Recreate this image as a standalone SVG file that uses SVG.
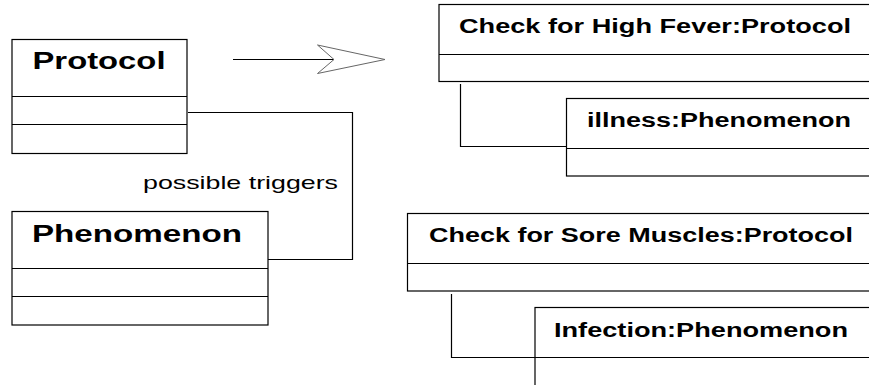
<svg xmlns="http://www.w3.org/2000/svg" width="869" height="385" viewBox="0 0 869 385">
<style>
.box{fill:#fff;stroke:#000;stroke-width:1.2}
.ln{fill:none;stroke:#000;stroke-width:1.2}
.t{font-family:"Liberation Sans",Arial,sans-serif;font-weight:bold;fill:#000}
.lbl{font-family:"Liberation Sans",Arial,sans-serif;fill:#000}
</style>
<rect width="869" height="385" fill="#fff"/>
<g id="connectors">
<path class="ln" d="M188 112.5 H352.5 V259.5 H268"/>
<path class="ln" d="M460.5 84 V146.5 H566"/>
<path class="ln" d="M451.5 294 V357.5 H535"/>
<path class="ln" d="M233 59.5 H334"/>
<path d="M317.5 45 L385 59.5 L317.5 73.5 L334 59.5 Z" fill="#fff" stroke="#666" stroke-width="1"/>
<text class="lbl" x="143" y="189" font-size="19" textLength="195" lengthAdjust="spacingAndGlyphs">possible triggers</text>
</g>
<g id="protocol">
<rect class="box" x="12" y="39.5" width="175" height="114"/>
<path class="ln" d="M12 96.5 H187 M12 124.5 H187"/>
<text class="t" x="32.5" y="68.5" font-size="24" textLength="133" lengthAdjust="spacingAndGlyphs">Protocol</text>
</g>
<g id="phenomenon">
<rect class="box" x="12" y="211.5" width="256" height="113.5"/>
<path class="ln" d="M12 268.5 H268 M12 296.5 H268"/>
<text class="t" x="32" y="242" font-size="24" textLength="210" lengthAdjust="spacingAndGlyphs">Phenomenon</text>
</g>
<g id="high-fever">
<rect class="box" x="439" y="4.5" width="460" height="77"/>
<path class="ln" d="M439 54.5 H899"/>
<text class="t" x="459" y="33" font-size="20" textLength="392" lengthAdjust="spacingAndGlyphs">Check for High Fever:Protocol</text>
</g>
<g id="illness">
<rect class="box" x="566.5" y="98.5" width="340" height="77.5"/>
<path class="ln" d="M566.5 148.5 H906"/>
<text class="t" x="587" y="127" font-size="20" textLength="264" lengthAdjust="spacingAndGlyphs">illness:Phenomenon</text>
</g>
<g id="sore-muscles">
<rect class="box" x="407.5" y="213.5" width="490" height="77.5"/>
<path class="ln" d="M407.5 263.5 H897"/>
<text class="t" x="429" y="242" font-size="20" textLength="424" lengthAdjust="spacingAndGlyphs">Check for Sore Muscles:Protocol</text>
</g>
<g id="infection">
<rect class="box" x="535" y="307.5" width="360" height="100"/>
<path class="ln" d="M535 357.5 H895"/>
<text class="t" x="554" y="337" font-size="20" textLength="294" lengthAdjust="spacingAndGlyphs">Infection:Phenomenon</text>
</g>
</svg>
